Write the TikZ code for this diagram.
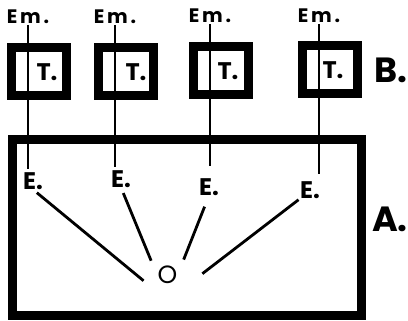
\documentclass[tikz,border=0pt]{standalone}
\usepackage{fontspec}
\setmainfont{Poppins}
\usetikzlibrary{positioning,calc}
\tikzset{
  every node/.style={outer sep=0pt},
}

\begin{document}
\begin{tikzpicture}[x=1pt, y=-1pt,
  cell/.style={draw, line width=9pt, minimum width=55pt, minimum height=48pt, inner sep=0pt},
  tag/.style={font=\bfseries\fontsize{19.5}{19.5}\selectfont\addfontfeature{LetterSpace=14}, inner sep=0pt},
  letter/.style={font=\bfseries\fontsize{24}{24}\selectfont, inner sep=0pt},
  big/.style={font=\bfseries\fontsize{35}{35}\selectfont, inner sep=0pt},
  wire/.style={line width=1.4pt},
  ray/.style={line width=2.8pt}
]
  \useasboundingbox (0,0) rectangle (408,321);
  \node[tag] (em1) at (28,17) {Em.};
  \node[tag] (em2) at (115,17) {Em.};
  \node[tag] (em3) at (210,16) {Em.};
  \node[tag] (em4) at (319,16) {Em.};
  \node[cell] (tb1) at (38.5,71.5) {};
  \node[cell] (tb2) at (125.5,71.5) {};
  \node[cell] (tb3) at (221,70.5) {};
  \node[cell] (tb4) at (330,69.5) {};
  \node[letter] (t1) at (47,72) {T.};
  \node[letter] (t2) at (136,72) {T.};
  \node[letter] (t3) at (228,71) {T.};
  \node[letter] (t4) at (333,70) {T.};
  \node[big] (bl) at (391,70) {B.};
  \node[draw, line width=9pt, minimum width=349pt, minimum height=176pt] (tank) at (186.5,228) {};
  \node[big] (al) at (390,219) {A.};
  \node[letter] (e1) at (33,181) {E.};
  \node[letter] (e2) at (121,179) {E.};
  \node[letter] (e3) at (209,187) {E.};
  \node[letter] (e4) at (310,190) {E.};
  \node[font=\fontsize{25}{25}\selectfont, inner sep=0pt] (o) at (167.5,274.5) {O};
  \coordinate (focus) at ($(o)+(0,26)$);
  \draw[wire, shorten <=1pt, shorten >=3pt] (em1.south) -- (em1.south |- e1.north);
  \draw[wire, shorten <=1pt, shorten >=3pt] (em2.south) -- (em2.south |- e2.north);
  \draw[wire, shorten <=1pt, shorten >=12pt] (em3.south) -- (em3.south |- e3.north);
  \draw[wire, shorten <=1pt, shorten >=7pt] (em4.south) -- (em4.south |- e4.north);
  \draw[ray, shorten <=5pt, shorten >=31pt] (e1.south) -- (focus);
  \draw[ray, shorten <=6pt, shorten >=43pt] (e2.south) -- (focus);
  \draw[ray, shorten <=12pt, shorten >=44pt] (e3.south) -- (focus);
  \draw[ray, shorten <=2pt, shorten >=44pt] (e4.south west) -- (focus);
\end{tikzpicture}
\end{document}
